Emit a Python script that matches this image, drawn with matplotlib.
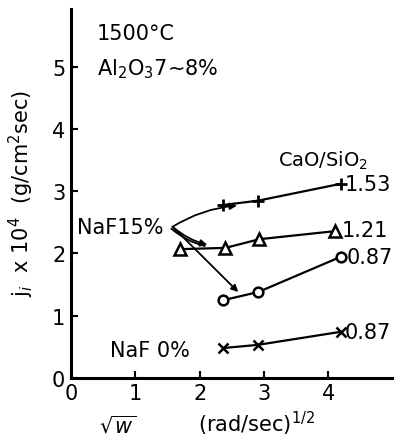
import matplotlib
matplotlib.use("Agg")
import matplotlib.pyplot as plt

# data
sqrt_w_153 = [2.37, 2.91, 4.19]
j_153 = [2.78, 2.85, 3.12]
sqrt_w_121 = [1.70, 2.40, 2.93, 4.11]
j_121 = [2.07, 2.09, 2.23, 2.36]
sqrt_w_087 = [2.37, 2.91, 4.20]
j_087 = [1.25, 1.38, 1.95]
sqrt_w_naf0 = [2.37, 2.90, 4.19]
j_naf0 = [0.48, 0.53, 0.74]
x_ticks = [0, 1, 2, 3, 4]
y_ticks = [0, 1, 2, 3, 4, 5]

plt.rcParams['font.family'] = ['DejaVu Sans']
fig = plt.figure(figsize=(3.94, 4.39), dpi=100)
ax = fig.add_axes([0.180, 0.137, 0.82, 0.840])
ax.set_xlim(0, 5.02)
ax.set_ylim(0, 5.93)

lw = 1.6
ax.plot(sqrt_w_153, j_153, color='black', lw=lw, marker='+', ms=9, mew=2)
ax.plot(sqrt_w_121, j_121, color='black', lw=lw, marker='^', ms=9, mew=1.8, mfc='white')
ax.plot(sqrt_w_087, j_087, color='black', lw=lw, marker='o', ms=7, mew=1.8, mfc='white')
ax.plot(sqrt_w_naf0, j_naf0, color='black', lw=lw, marker='x', ms=7, mew=1.8)

fs = 15
# series labels
ax.text(4.26, 3.12, '1.53', fontsize=fs, va='center', ha='left')
ax.text(4.20, 2.37, '1.21', fontsize=fs, va='center', ha='left')
ax.text(4.28, 1.95, '0.87', fontsize=fs, va='center', ha='left')
ax.text(4.26, 0.74, '0.87', fontsize=fs, va='center', ha='left')
ax.text(3.22, 3.5, 'CaO/SiO$_2$', fontsize=14, va='center', ha='left')
ax.text(0.4, 5.55, '1500°C', fontsize=fs, va='center', ha='left')
ax.text(0.4, 4.98, 'Al$_2$O$_3$7~8%', fontsize=fs, va='center', ha='left')
ax.text(0.1, 2.43, 'NaF15%', fontsize=fs, va='center', ha='left')
ax.text(0.6, 0.45, 'NaF 0%', fontsize=fs, va='center', ha='left')

# arrows from NaF15% label
start = (1.58, 2.43)
ap = dict(arrowstyle='-|>', color='black', lw=1.3, mutation_scale=10, shrinkA=0, shrinkB=0)
ax.annotate('', xy=(2.58, 2.77), xytext=start, arrowprops=dict(ap, connectionstyle='arc3,rad=-0.12'))
ax.annotate('', xy=(2.12, 2.14), xytext=start, arrowprops=dict(ap, connectionstyle='arc3,rad=0.12'))
ax.annotate('', xy=(2.08, 2.12), xytext=(1.56, 2.40),
            arrowprops=dict(arrowstyle='-', color='black', lw=1.3, shrinkA=0, shrinkB=0,
                            connectionstyle='arc3,rad=0.12'))
ax.annotate('', xy=(2.60, 1.38), xytext=start, arrowprops=dict(ap, connectionstyle='arc3,rad=0.0'))

for s in ['top', 'right']:
    ax.spines[s].set_visible(False)
for s in ['left', 'bottom']:
    ax.spines[s].set_linewidth(2.2)
ax.set_xticks(x_ticks)
ax.set_yticks(y_ticks)
ax.tick_params(direction='in', length=5, width=1.5, labelsize=fs, pad=4)

fig.text(0.055, 0.56, 'j$_i$  x 10$^4$  (g/cm$^2$sec)', rotation=90, fontsize=fs, ha='center', va='center')
fig.text(0.30, 0.003, '$\\sqrt{w}$', fontsize=fs, ha='center', va='bottom')
fig.text(0.65, 0.003, '(rad/sec)$^{1/2}$', fontsize=fs, ha='center', va='bottom')

fig.savefig('out.png', dpi=100)
